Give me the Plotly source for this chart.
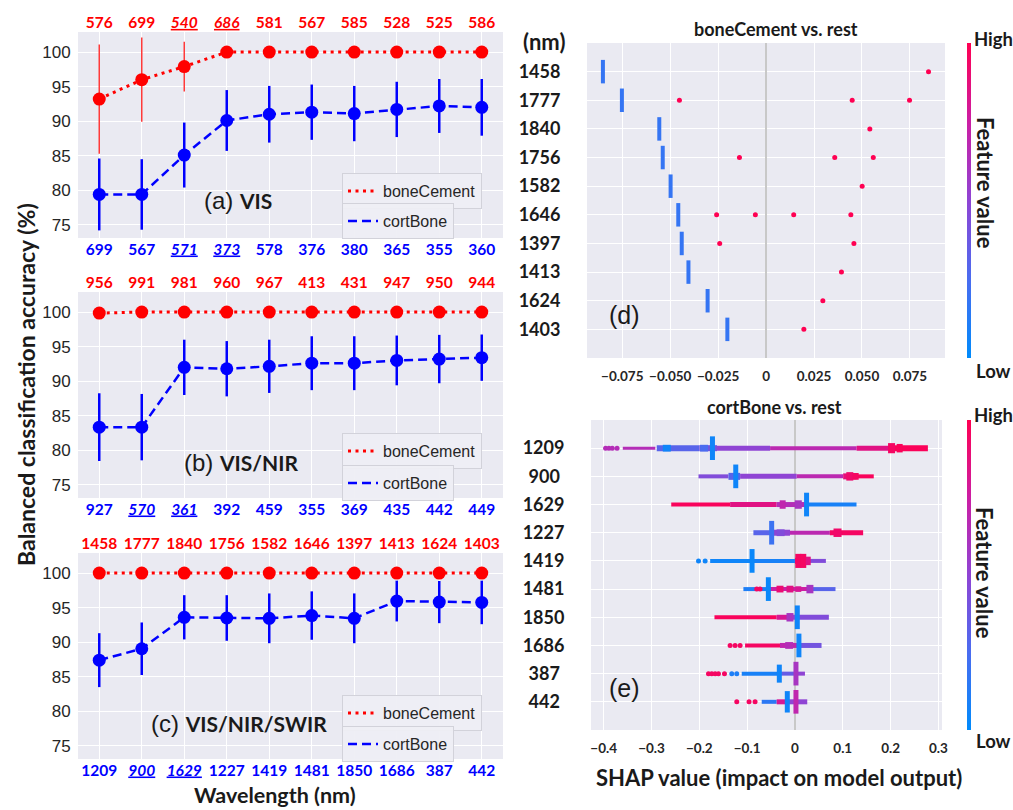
import plotly.graph_objects as go
from plotly.colors import sample_colorscale

W, H = 1013, 810


def px(x):
    return x / W


def py(y):
    return 1 - y / H


# ---------------- data: accuracy panels (a)-(c) ----------------
pos = list(range(10))

a_top_labels = ["576", "699", "<i><u>540</u></i>", "<i><u>686</u></i>", "581", "567", "585", "528", "525", "586"]
a_bot_labels = ["699", "567", "<i><u>571</u></i>", "<i><u>373</u></i>", "578", "376", "380", "365", "355", "360"]
a_bone = [93.2, 96.0, 97.9, 100, 100, 100, 100, 100, 100, 100]
a_bone_err = [7.9, 6.1, 3.6, 0, 0, 0, 0, 0, 0, 0]
a_cort = [79.4, 79.4, 85.1, 90.1, 91.0, 91.3, 91.1, 91.7, 92.2, 92.0]
a_cort_err = [5.2, 5.1, 4.7, 4.4, 4.1, 4.0, 4.0, 4.0, 3.9, 4.1]

b_top_labels = ["956", "991", "981", "960", "967", "413", "431", "947", "950", "944"]
b_bot_labels = ["927", "<i><u>570</u></i>", "<i><u>361</u></i>", "392", "459", "355", "369", "435", "442", "449"]
b_bone = [99.85, 100, 100, 100, 100, 100, 100, 100, 100, 100]
b_bone_err = [0, 0, 0, 0, 0, 0, 0, 0, 0, 0]
b_cort = [83.35, 83.35, 92.0, 91.8, 92.15, 92.6, 92.6, 93.0, 93.2, 93.4]
b_cort_err = [4.9, 4.8, 4.0, 4.0, 3.85, 3.9, 3.9, 3.6, 3.5, 3.35]

c_top_labels = ["1458", "1777", "1840", "1756", "1582", "1646", "1397", "1413", "1624", "1403"]
c_bot_labels = ["1209", "<i><u>900</u></i>", "<i><u>1629</u></i>", "1227", "1419", "1481", "1850", "1686", "387", "442"]
c_bone = [100, 100, 100, 100, 100, 100, 100, 100, 100, 100]
c_bone_err = [0, 0, 0, 0, 0, 0, 0, 0, 0, 0]
c_cort = [87.4, 89.05, 93.6, 93.5, 93.45, 93.85, 93.45, 95.95, 95.8, 95.75]
c_cort_err = [3.9, 3.8, 3.2, 3.3, 3.6, 3.5, 3.6, 2.95, 3.05, 3.15]

acc_ticks = [75, 80, 85, 90, 95, 100]

# ---------------- data: SHAP panel (d) ----------------
d_features = ["1458", "1777", "1840", "1756", "1582", "1646", "1397", "1413", "1624", "1403"]
d_low_stack = [-0.0851, -0.0752, -0.0557, -0.0539, -0.0498, -0.0458, -0.0440, -0.0405, -0.0305, -0.0202]
d_high_points = [
    [0.0847],
    [-0.0452, 0.0449, 0.0748],
    [0.0541],
    [-0.0139, 0.0358, 0.0559],
    [0.0501],
    [-0.0258, -0.0056, 0.0144, 0.0442],
    [-0.0242, 0.0458],
    [0.0393],
    [0.0296],
    [0.0197],
]
d_xticks = [-0.075, -0.05, -0.025, 0, 0.025, 0.05, 0.075]
d_xticktext = ["\u22120.075", "\u22120.050", "\u22120.025", "0", "0.025", "0.050", "0.075"]

# ---------------- data: SHAP panel (e) ----------------
e_features = ["1209", "900", "1629", "1227", "1419", "1481", "1850", "1686", "387", "442"]
# horizontal bands: [x_start, x_end, feature value, thickness px]
e_segments = [
    [[-0.360, -0.292, 0.65, 3], [-0.289, -0.200, 0.30, 6], [-0.200, -0.163, 0.40, 6],
     [-0.163, -0.052, 0.50, 5], [-0.052, 0.129, 0.68, 4], [0.129, 0.198, 0.85, 5], [0.198, 0.278, 0.98, 6]],
    [[-0.2017, -0.139, 0.45, 4], [-0.139, -0.1147, 0.30, 7], [-0.1147, 0.0035, 0.50, 5],
     [0.0035, 0.1008, 0.68, 4], [0.1008, 0.1287, 0.88, 6], [0.1287, 0.1648, 0.97, 4]],
    [[-0.2587, -0.1356, 0.97, 4], [-0.1356, -0.0382, 0.85, 5], [-0.0382, 0.0243, 0.65, 5],
     [0.0243, 0.1287, 0.08, 4]],
    [[-0.0869, -0.0487, 0.30, 5], [-0.0487, -0.0104, 0.50, 6], [-0.0104, 0.073, 0.68, 4],
     [0.073, 0.1426, 0.95, 5]],
    [[-0.1773, -0.0897, 0.05, 4], [-0.0897, 0.0, 0.08, 4], [0.0, 0.0278, 0.90, 6],
     [0.0278, 0.0647, 0.45, 4]],
    [[-0.1078, -0.0556, 0.10, 4], [-0.0556, 0.0313, 0.75, 4], [0.0313, 0.0848, 0.30, 4]],
    [[-0.1683, -0.0382, 0.97, 4], [-0.0382, -0.0104, 0.80, 5], [-0.0104, 0.0709, 0.45, 5]],
    [[-0.1043, -0.0313, 0.95, 4], [-0.0313, 0.0083, 0.70, 5], [0.0083, 0.0556, 0.40, 5]],
    [[-0.1113, -0.0327, 0.08, 4], [-0.0327, 0.0021, 0.35, 4], [0.0021, 0.0209, 0.50, 4]],
    [[-0.0695, -0.0382, 0.15, 4], [-0.0382, -0.016, 0.80, 5], [-0.016, 0.0257, 0.50, 5]],
]
# stacked clusters: [x, half height (rows), feature value, width px]
e_clusters = [
    [[-0.268, 0.12, 0.05, 8], [-0.19, 0.12, 0.25, 8], [-0.1725, 0.42, 0.05, 5],
     [0.202, 0.18, 0.95, 7], [0.219, 0.15, 0.98, 6]],
    [[-0.1238, 0.42, 0.05, 5], [0.1147, 0.15, 0.92, 7], [0.127, 0.12, 0.95, 6]],
    [[-0.0257, 0.15, 0.70, 6], [0.007, 0.15, 0.60, 7], [0.0243, 0.42, 0.05, 5]],
    [[-0.0487, 0.42, 0.20, 5], [-0.030, 0.12, 0.45, 8], [0.089, 0.15, 0.93, 8]],
    [[-0.0897, 0.42, 0.03, 5], [0.007, 0.25, 0.95, 6], [0.0174, 0.25, 0.95, 6], [0.0278, 0.15, 0.85, 5]],
    [[-0.0556, 0.42, 0.03, 5], [-0.0313, 0.12, 0.90, 7], [-0.0104, 0.12, 0.85, 7],
     [0.007, 0.10, 0.80, 6], [0.0313, 0.15, 0.60, 7]],
    [[-0.0104, 0.15, 0.60, 7], [0.0049, 0.42, 0.05, 5]],
    [[-0.012, 0.12, 0.65, 8], [0.0083, 0.42, 0.05, 5]],
    [[-0.0327, 0.32, 0.05, 5], [0.0021, 0.42, 0.60, 5]],
    [[-0.016, 0.38, 0.05, 5], [0.0021, 0.42, 0.70, 5]],
]
# isolated points: [x, feature value]
e_dots = [
    [[-0.396, 0.65], [-0.389, 0.65], [-0.382, 0.65], [-0.372, 0.65]],
    [],
    [],
    [],
    [[-0.2017, 0.05], [-0.1878, 0.05]],
    [[-0.080, 0.95], [-0.073, 0.95]],
    [],
    [[-0.1356, 0.95], [-0.1252, 0.95], [-0.1147, 0.95]],
    [[-0.1808, 0.95], [-0.1739, 0.95], [-0.1669, 0.95], [-0.160, 0.95], [-0.1474, 0.95],
     [-0.1321, 0.10], [-0.1217, 0.10]],
    [[-0.1217, 0.95], [-0.096, 0.95], [-0.0834, 0.95]],
]
e_xticks = [-0.4, -0.3, -0.2, -0.1, 0, 0.1, 0.2, 0.3]
e_xticktext = ["\u22120.4", "\u22120.3", "\u22120.2", "\u22120.1", "0", "0.1", "0.2", "0.3"]

# ---------------- style ----------------
CS = [[0.0, "#008bfb"], [0.25, "#4a6cf0"], [0.5, "#8f44d4"], [0.75, "#cc1ea4"], [1.0, "#ff0052"]]
BG = "#EAEAF2"
RED = "#ff0000"
BLUE = "#0000ff"
SANS = "Liberation Sans"
CAL = "Lato"
DARK = "#1a1a1a"


def fv_color(v):
    return sample_colorscale(CS, [v])[0]


fig = go.Figure()

panels = [
    dict(xb="x", xt="x2", y="y", top=a_top_labels, bot=a_bot_labels, bone=a_bone, bone_err=a_bone_err,
         cort=a_cort, cort_err=a_cort_err, lg=("legend", "legend2"), yt=32, yb=238),
    dict(xb="x3", xt="x4", y="y2", top=b_top_labels, bot=b_bot_labels, bone=b_bone, bone_err=b_bone_err,
         cort=b_cort, cort_err=b_cort_err, lg=("legend3", "legend4"), yt=292, yb=498),
    dict(xb="x5", xt="x6", y="y3", top=c_top_labels, bot=c_bot_labels, bone=c_bone, bone_err=c_bone_err,
         cort=c_cort, cort_err=c_cort_err, lg=("legend5", "legend6"), yt=553, yb=759),
]

for p in panels:
    fig.add_trace(go.Scatter(
        x=pos, y=p["cort"], mode="lines+markers", xaxis=p["xb"], yaxis=p["y"],
        line=dict(color=BLUE, width=2.5, dash="9px,5px"),
        marker=dict(color=BLUE, size=13),
        error_y=dict(type="data", array=p["cort_err"], visible=True, color=BLUE, thickness=2.5, width=0),
        showlegend=False, hoverinfo="skip"))
    fig.add_trace(go.Scatter(
        x=pos, y=p["bone"], mode="lines+markers", xaxis=p["xb"], yaxis=p["y"],
        line=dict(color=RED, width=3, dash="3px,4.5px"),
        marker=dict(color=RED, size=13),
        error_y=dict(type="data", array=p["bone_err"], visible=True, color="#ff3a3a", thickness=1.5, width=0),
        showlegend=False, hoverinfo="skip"))
    # legend entries
    fig.add_trace(go.Scatter(x=[None], y=[None], mode="lines", name="boneCement", legend=p["lg"][0],
                             xaxis=p["xb"], yaxis=p["y"],
                             line=dict(color=RED, width=3, dash="3px,4.5px")))
    fig.add_trace(go.Scatter(x=[None], y=[None], mode="lines", name="cortBone", legend=p["lg"][1],
                             xaxis=p["xb"], yaxis=p["y"],
                             line=dict(color=BLUE, width=2.5, dash="9px,5px")))
    # carrier for the top axis
    fig.add_trace(go.Scatter(x=pos, y=[None] * len(pos), mode="markers", xaxis=p["xt"], yaxis=p["y"],
                             showlegend=False, hoverinfo="skip"))

# ---- panel (d) ----
for i, xv in enumerate(d_low_stack):
    fig.add_trace(go.Scatter(x=[xv, xv], y=[i - 0.41, i + 0.41], mode="lines", xaxis="x7", yaxis="y4",
                             line=dict(color=fv_color(0.18), width=4), showlegend=False, hoverinfo="skip"))
dx, dy, dc = [], [], []
for i, pts in enumerate(d_high_points):
    for xv in pts:
        dx.append(xv)
        dy.append(i)
        dc.append(1.0)
fig.add_trace(go.Scatter(x=dx, y=dy, mode="markers", xaxis="x7", yaxis="y4",
                         marker=dict(color=dc, coloraxis="coloraxis", size=5),
                         showlegend=False, hoverinfo="skip"))

# ---- panel (e) ----
for i, segs in enumerate(e_segments):
    for x0, x1, fv, w in segs:
        fig.add_trace(go.Scatter(x=[x0, x1], y=[i, i], mode="lines", xaxis="x8", yaxis="y5",
                                 line=dict(color=fv_color(fv), width=w), showlegend=False, hoverinfo="skip"))
for i, cl in enumerate(e_clusters):
    for xv, hh, fv, w in cl:
        fig.add_trace(go.Scatter(x=[xv, xv], y=[i - hh, i + hh], mode="lines", xaxis="x8", yaxis="y5",
                                 line=dict(color=fv_color(fv), width=w), showlegend=False, hoverinfo="skip"))
ex, ey, ec = [], [], []
for i, pts in enumerate(e_dots):
    for xv, fv in pts:
        ex.append(xv)
        ey.append(i)
        ec.append(fv)
fig.add_trace(go.Scatter(x=ex, y=ey, mode="markers", xaxis="x8", yaxis="y5",
                         marker=dict(color=ec, coloraxis="coloraxis2", size=5),
                         showlegend=False, hoverinfo="skip"))

# ---------------- layout ----------------
layout = dict(
    width=W, height=H, margin=dict(l=0, r=0, t=0, b=0),
    paper_bgcolor="white", plot_bgcolor=BG, template="none", hovermode=False,
)

xl, xr = px(78), px(503)
axis_names = [("xaxis", "xaxis2", "yaxis", "x", "y"), ("xaxis3", "xaxis4", "yaxis2", "x3", "y2"),
              ("xaxis5", "xaxis6", "yaxis3", "x5", "y3")]
for (xbn, xtn, yn, xref, yref), p in zip(axis_names, panels):
    layout[xbn] = dict(domain=[xl, xr], anchor=yref, range=[-0.5, 9.5], tickmode="array",
                       tickvals=pos, ticktext=p["bot"], showgrid=True, gridcolor="white", gridwidth=1,
                       zeroline=False, showline=False, ticks="", ticklabelstandoff=0,
                       tickfont=dict(family=CAL, size=15.5, color=BLUE, weight="bold"))
    layout[xtn] = dict(overlaying=xref, anchor=yref, side="top", range=[-0.5, 9.5], tickmode="array",
                       tickvals=pos, ticktext=p["top"], showgrid=False, zeroline=False, showline=False,
                       ticks="",
                       tickfont=dict(family=CAL, size=15.5, color=RED, weight="bold"))
    layout[yn] = dict(domain=[py(p["yb"]), py(p["yt"])], anchor=xref, range=[73.1, 102.9],
                      tickmode="array", tickvals=acc_ticks, showgrid=True, gridcolor="white", gridwidth=1,
                      zeroline=False, showline=False, ticks="outside", ticklen=3, tickcolor="rgba(0,0,0,0)",
                      tickfont=dict(family=SANS, size=17, color="#262626"))

layout["xaxis7"] = dict(domain=[px(587), px(945)], anchor="y4", range=[-0.0934, 0.0933], tickmode="array",
                        tickvals=d_xticks, ticktext=d_xticktext, showgrid=True, gridcolor="white",
                        zeroline=True, zerolinecolor="#c8c8c8", zerolinewidth=2, showline=False,
                        ticks="outside", ticklen=6, tickcolor="rgba(0,0,0,0)",
                        tickfont=dict(family=CAL, size=13.5, color="#262626", weight="bold"))
layout["yaxis4"] = dict(domain=[py(358), py(43)], anchor="x7", range=[10, -1], tickmode="array",
                        tickvals=list(range(10)), ticktext=d_features, showgrid=True, gridcolor="white",
                        zeroline=False, showline=False, ticks="outside", ticklen=22, tickcolor="rgba(0,0,0,0)",
                        tickfont=dict(family=CAL, size=18, color=DARK, weight="bold"))
layout["xaxis8"] = dict(domain=[px(591), px(942)], anchor="y5", range=[-0.4265, 0.3075], tickmode="array",
                        tickvals=e_xticks, ticktext=e_xticktext, showgrid=True, gridcolor="white",
                        zeroline=True, zerolinecolor="#c8c8c8", zerolinewidth=2, showline=False,
                        ticks="outside", ticklen=6, tickcolor="rgba(0,0,0,0)",
                        tickfont=dict(family=CAL, size=13.5, color="#262626", weight="bold"))
e_ticktext = [t if len(t) == 4 else t + "\u2005" for t in e_features]
layout["yaxis5"] = dict(domain=[py(730), py(420)], anchor="x8", range=[10, -1], tickmode="array",
                        tickvals=list(range(10)), ticktext=e_ticktext, showgrid=True, gridcolor="white",
                        zeroline=False, showline=False, ticks="outside", ticklen=22, tickcolor="rgba(0,0,0,0)",
                        tickfont=dict(family=CAL, size=18, color=DARK, weight="bold"))

cbar_common = dict(thickness=4, lenmode="fraction", xanchor="left", yanchor="top", xpad=0, ypad=0,
                   outlinewidth=0, showticklabels=False, ticks="")
layout["coloraxis"] = dict(colorscale=CS, cmin=0, cmax=1,
                           colorbar=dict(cbar_common, x=px(967), y=py(43), len=(358 - 43) / H))
layout["coloraxis2"] = dict(colorscale=CS, cmin=0, cmax=1,
                            colorbar=dict(cbar_common, x=px(967), y=py(420), len=(730 - 420) / H))

legend_common = dict(xanchor="left", yanchor="top", bgcolor="rgba(238,238,244,0.95)", bordercolor="#d2d2da",
                     borderwidth=1, font=dict(family=SANS, size=16, color="#262626"), itemwidth=30)
legend_tops = {"legend": 173, "legend2": 203, "legend3": 433, "legend4": 465, "legend5": 695, "legend6": 726}
for name, top in legend_tops.items():
    layout[name] = dict(legend_common, x=px(342), y=py(top))


def ann(text, x, y, size, family=CAL, bold=True, angle=0, xanchor="center", color=DARK):
    return dict(text=text, x=px(x), y=py(y), xref="paper", yref="paper", showarrow=False,
                xanchor=xanchor, yanchor="middle", textangle=angle,
                font=dict(family=family, size=size, color=color, weight="bold" if bold else "normal"))


def panel_label(letter, name):
    return ('(%s) <span style="font-family:Lato;font-weight:bold;font-size:21px">%s</span>' % (letter, name))


annotations = [
    ann("Balanced classification accuracy (%)", 26, 385, 23, angle=-90),
    ann("Wavelength (nm)", 275, 795, 21.5),
    ann(panel_label("a", "VIS"), 202, 201, 24, family=SANS, bold=False, xanchor="left"),
    ann(panel_label("b", "VIS/NIR"), 182, 462, 24, family=SANS, bold=False, xanchor="left"),
    ann(panel_label("c", "VIS/NIR/SWIR"), 149, 723, 24, family=SANS, bold=False, xanchor="left"),
    ann("(d)", 607, 315, 25, family=SANS, bold=False, xanchor="left"),
    ann("(e)", 607, 688, 25, family=SANS, bold=False, xanchor="left"),
    ann("(nm)", 544, 42, 22),
    ann("boneCement vs. rest", 776, 29, 18),
    ann("cortBone vs. rest", 774, 407, 18),
    ann("SHAP value (impact on model output)", 779, 777, 22),
    ann("High", 993, 39, 18.5),
    ann("Low", 993, 371, 18.5),
    ann("Feature value", 985, 183, 22, angle=90),
    ann("High", 993, 415, 18.5),
    ann("Low", 993, 741, 18.5),
    ann("Feature value", 985, 573, 22, angle=90),
]
layout["annotations"] = annotations

fig.update_layout(**layout)
fig.write_html("out.html", config={"displayModeBar": False},
               post_script="document.body.style.margin='0';document.body.style.overflow='hidden';")
